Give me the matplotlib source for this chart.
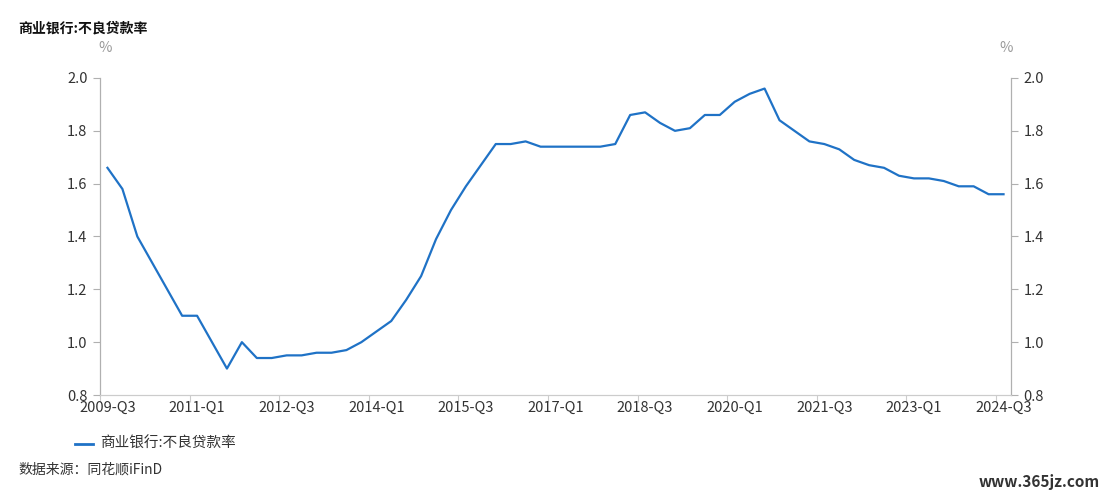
import numpy as np
import matplotlib.pyplot as plt

plt.rcParams['font.family'] = ['Noto Sans CJK SC', 'DejaVu Sans']

# 商业银行不良贷款率（%），2009-Q3 ~ 2024-Q3
quarters = [f'{y}-Q{q}' for y in range(2009, 2025) for q in range(1, 5)][2:-1]
npl = [1.66, 1.58,
       1.40, 1.30, 1.20, 1.10,
       1.10, 1.00, 0.90, 1.00,
       0.94, 0.94, 0.95, 0.95,
       0.96, 0.96, 0.97, 1.00,
       1.04, 1.08, 1.16, 1.25,
       1.39, 1.50, 1.59, 1.67,
       1.75, 1.75, 1.76, 1.74,
       1.74, 1.74, 1.74, 1.74,
       1.75, 1.86, 1.87, 1.83,
       1.80, 1.81, 1.86, 1.86,
       1.91, 1.94, 1.96, 1.84,
       1.80, 1.76, 1.75, 1.73,
       1.69, 1.67, 1.66, 1.63,
       1.62, 1.62, 1.61, 1.59,
       1.59, 1.56, 1.56]
yticks = [0.8, 1.0, 1.2, 1.4, 1.6, 1.8, 2.0]

line_color = '#1f72c6'
axis_color = '#b0b0b0'
text_color = '#333333'

fig = plt.figure(figsize=(11.11, 4.98), dpi=100)
ax = fig.add_axes([100 / 1111, 103 / 498, 911 / 1111, 317 / 498])

x = np.arange(len(quarters))
ax.plot(x, npl, color=line_color, lw=1.6, label='商业银行:不良贷款率')

ax.set_xlim(-0.5, len(quarters) - 0.5)
ax.set_ylim(0.8, 2.0)

# x 轴：刻度在类目之间，标签在类目中心
ax.set_xticks(np.arange(-0.5, len(quarters), 6))
ax.set_xticks(x[::6], minor=True)
ax.set_xticklabels([])
ax.set_xticklabels(quarters[::6], minor=True)
ax.tick_params(axis='x', which='major', length=5, color='#cccccc')
ax.tick_params(axis='x', which='minor', length=0, labelsize=10.5,
               labelcolor=text_color, pad=4)

ax.set_yticks(yticks)
ax.set_yticklabels([f'{v:.1f}' for v in yticks])
ax.tick_params(axis='y', length=5, color=axis_color, labelsize=10.5,
               labelcolor=text_color, pad=4)

ax2 = ax.twinx()
ax2.set_ylim(0.8, 2.0)
ax2.set_yticks(yticks)
ax2.set_yticklabels([f'{v:.1f}' for v in yticks])
ax2.tick_params(axis='y', length=5, color=axis_color, labelsize=10.5,
                labelcolor=text_color, pad=4)

for a in (ax, ax2):
    a.spines['top'].set_visible(False)
    a.spines['left'].set_color(axis_color)
    a.spines['right'].set_color(axis_color)
    a.spines['bottom'].set_color('#cccccc')

fig.text(105 / 1111, 1 - 48 / 498, '%', color='#999999', fontsize=10.5,
         ha='center', va='center')
fig.text(1006 / 1111, 1 - 48 / 498, '%', color='#999999', fontsize=10.5,
         ha='center', va='center')

fig.text(18 / 1111, 1 - 28 / 498, '商业银行:不良贷款率', fontsize=10,
         fontweight='bold', color='#111111', va='center')

# 图例
fig.add_artist(plt.Line2D([75 / 1111, 93 / 1111], [1 - 444 / 498] * 2,
                          color=line_color, lw=2))
fig.text(100 / 1111, 1 - 444 / 498, '商业银行:不良贷款率', fontsize=10.5,
         color=text_color, va='center')

fig.text(18 / 1111, 1 - 470 / 498, '数据来源：同花顺iFinD', fontsize=10,
         color=text_color, va='center')
fig.text(1100 / 1111, 1 - 482 / 498, 'www.365jz.com', fontsize=11,
         fontweight='bold', color='#333333', ha='right', va='center')

fig.savefig('out.png', dpi=100)
